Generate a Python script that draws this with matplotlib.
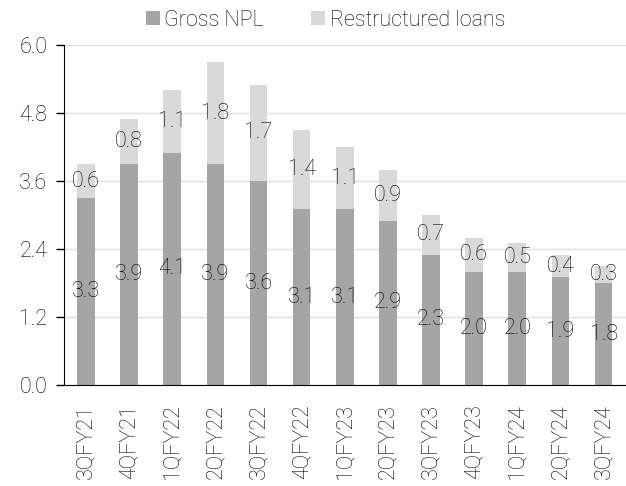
import matplotlib.pyplot as plt
import numpy as np

plt.rcParams['font.family'] = ['Roboto', 'DejaVu Sans']
plt.rcParams['font.weight'] = 'light'

quarters = ['3QFY21', '4QFY21', '1QFY22', '2QFY22', '3QFY22', '4QFY22', '1QFY23',
            '2QFY23', '3QFY23', '4QFY23', '1QFY24', '2QFY24', '3QFY24']
gross_npl = [3.3, 3.9, 4.1, 3.9, 3.6, 3.1, 3.1, 2.9, 2.3, 2.0, 2.0, 1.9, 1.8]
restructured = [0.6, 0.8, 1.1, 1.8, 1.7, 1.4, 1.1, 0.9, 0.7, 0.6, 0.5, 0.4, 0.3]

dark = '#a5a5a5'
light = '#d9d9d9'
txt = 'black'
fs = 15.5

fig = plt.figure(figsize=(6.26, 4.86), dpi=100)
ax = fig.add_axes([0.1022, 0.2078, 0.8978, 0.6996])

x = np.arange(len(quarters))
gross = np.array(gross_npl)
restr = np.array(restructured)
w = 0.41

ax.bar(x, gross, w, color=dark, label='Gross NPL', zorder=2)
ax.bar(x, restr, w, bottom=gross, color=light, label='Restructured loans', zorder=2)

# value labels centred in each segment
for i in range(len(x)):
    ax.text(x[i], gross[i] / 2, f'{gross[i]:.1f}', ha='center', va='center',
            fontsize=fs, color=txt, zorder=3)
    ax.text(x[i], gross[i] + restr[i] / 2, f'{restr[i]:.1f}', ha='center', va='center',
            fontsize=fs, color=txt, zorder=3)

ax.set_xlim(-0.51, 12.52)
ax.set_ylim(0, 6.0)
ax.set_yticks([0.0, 1.2, 2.4, 3.6, 4.8, 6.0])
ax.set_yticklabels(['0.0', '1.2', '2.4', '3.6', '4.8', '6.0'])
ax.set_xticks(x)
ax.set_xticklabels(quarters, rotation=90)
ax.tick_params(axis='y', length=6, width=1, color='black', labelsize=fs,
               labelcolor=txt, pad=6)
ax.tick_params(axis='x', length=0, labelsize=fs, labelcolor=txt, pad=14)
ax.grid(axis='y', color='#e0e0e0', linewidth=1, zorder=0)
ax.set_axisbelow(True)

for s in ['top', 'right']:
    ax.spines[s].set_visible(False)
ax.spines['left'].set_color('black')
ax.spines['bottom'].set_color('black')

fig.legend(loc='upper center', bbox_to_anchor=(0.52, 1.02), ncol=2, frameon=False,
           fontsize=fs, handlelength=0.65, handleheight=0.65, handletextpad=0.2,
           columnspacing=2.2, labelcolor=txt)

fig.savefig('out.png', dpi=100)
